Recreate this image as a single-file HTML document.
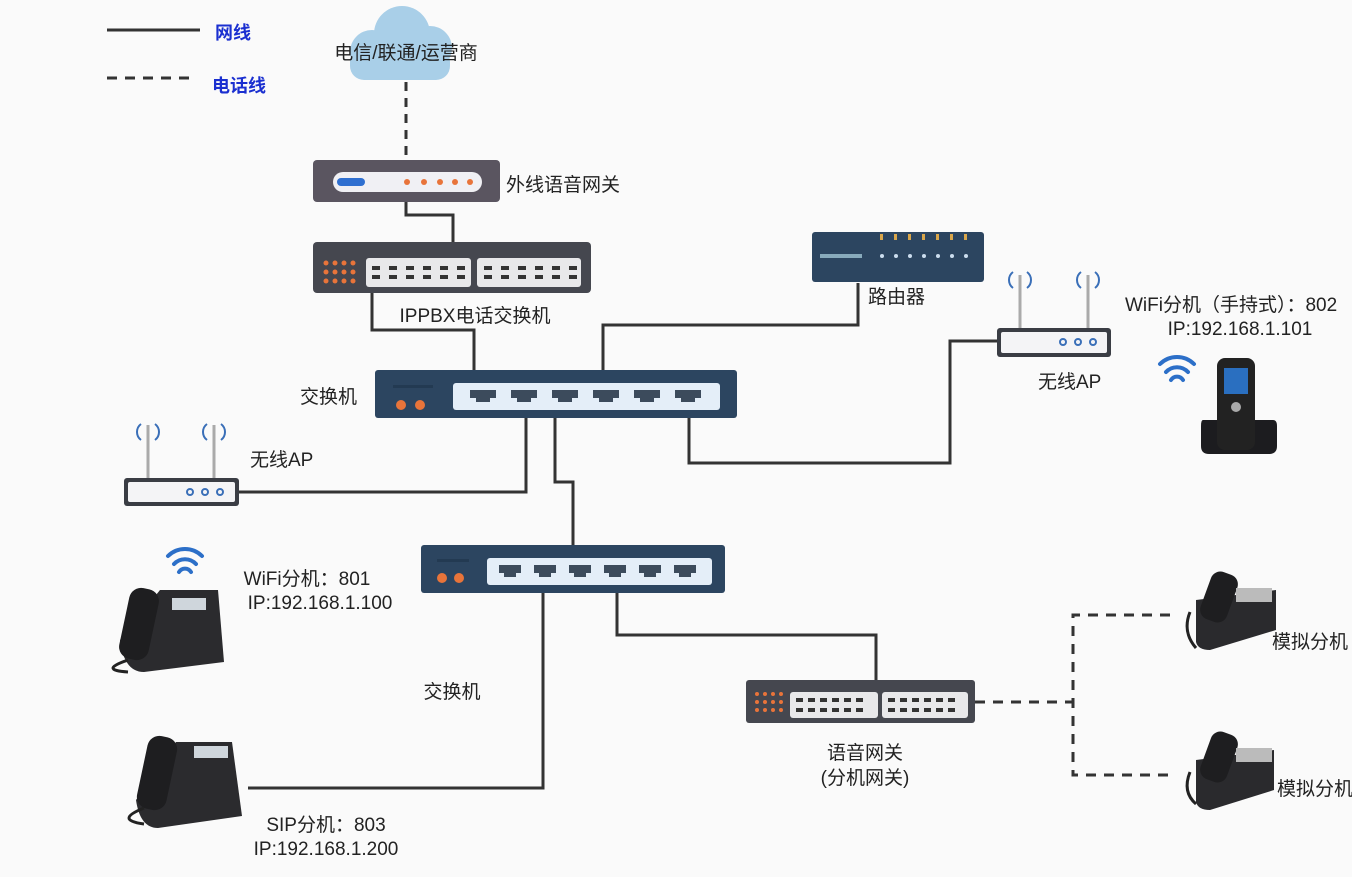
<!DOCTYPE html>
<html><head><meta charset="utf-8"><style>
body{margin:0;background:#fafafa;}
svg{display:block}
text{font-family:"Liberation Sans","Noto Sans CJK SC",sans-serif;font-size:19px;fill:#222}
</style></head><body>
<svg width="1352" height="877" viewBox="0 0 1352 877" xmlns="http://www.w3.org/2000/svg">
<rect width="1352" height="877" fill="#fafafa"/>
<!-- legend -->
<line x1="107" y1="30" x2="200" y2="30" stroke="#333" stroke-width="3"/>
<text x="215" y="39" style="fill:#1a2fd0;font-weight:bold;font-size:18px">网线</text>
<line x1="107" y1="78" x2="197" y2="78" stroke="#333" stroke-width="3" stroke-dasharray="10,8"/>
<text x="212" y="92" style="fill:#1a2fd0;font-weight:bold;font-size:18px">电话线</text>
<!-- cloud -->
<g fill="#a9cfe8">
<circle cx="372" cy="52" r="22"/><circle cx="402" cy="34" r="28"/><circle cx="430" cy="48" r="22"/>
<rect x="350" y="48" width="100" height="32" rx="14"/>
</g>
<text x="406" y="59" text-anchor="middle">电信/联通/运营商</text>
<!-- lines -->
<g stroke="#333" stroke-width="3" fill="none">
<line x1="406" y1="82" x2="406" y2="160" stroke-dasharray="9,7"/>
<polyline points="406,202 406,215 453,215 453,242"/>
<polyline points="372,293 372,330 474,330 474,370"/>
<polyline points="603,370 603,325 858,325 858,283"/>
<polyline points="689,418 689,463 950,463 950,341 997,341"/>
<polyline points="526,418 526,492 239,492"/>
<polyline points="555,418 555,482 573,482 573,545"/>
<polyline points="543,593 543,788 248,788"/>
<polyline points="617,593 617,635 876,635 876,680"/>
<g stroke-dasharray="10,8">
<polyline points="975,702 1073,702"/>
<polyline points="1170,615 1073,615 1073,775 1170,775"/>
</g>
</g>
<!-- outer voice gateway -->
<rect x="313" y="160" width="187" height="42" rx="4" fill="#5a5560"/>
<rect x="333" y="172" width="149" height="20" rx="10" fill="#f0f0f4"/>
<rect x="337" y="178" width="28" height="8" rx="4" fill="#2f6fd0"/>
<g fill="#e8743a"><circle cx="407" cy="182" r="3"/><circle cx="424" cy="182" r="3"/><circle cx="440" cy="182" r="3"/><circle cx="455" cy="182" r="3"/><circle cx="470" cy="182" r="3"/></g>
<text x="506" y="191">外线语音网关</text>
<!-- IPPBX -->
<rect x="313" y="242" width="278" height="51" rx="4" fill="#45474f"/>
<g fill="#e8743a">
<circle cx="326" cy="263" r="2.5"/><circle cx="335" cy="263" r="2.5"/><circle cx="344" cy="263" r="2.5"/><circle cx="353" cy="263" r="2.5"/>
<circle cx="326" cy="272" r="2.5"/><circle cx="335" cy="272" r="2.5"/><circle cx="344" cy="272" r="2.5"/><circle cx="353" cy="272" r="2.5"/>
<circle cx="326" cy="281" r="2.5"/><circle cx="335" cy="281" r="2.5"/><circle cx="344" cy="281" r="2.5"/><circle cx="353" cy="281" r="2.5"/>
</g>
<rect x="366" y="258" width="105" height="29" rx="3" fill="#e8e8ea"/>
<rect x="477" y="258" width="104" height="29" rx="3" fill="#e8e8ea"/>
<g fill="#333">
<path d="M372 266h8v4h-8zM389 266h8v4h-8zM406 266h8v4h-8zM423 266h8v4h-8zM440 266h8v4h-8zM457 266h8v4h-8zM484 266h8v4h-8zM501 266h8v4h-8zM518 266h8v4h-8zM535 266h8v4h-8zM552 266h8v4h-8zM569 266h8v4h-8z"/>
<path d="M372 275h8v4h-8zM389 275h8v4h-8zM406 275h8v4h-8zM423 275h8v4h-8zM440 275h8v4h-8zM457 275h8v4h-8zM484 275h8v4h-8zM501 275h8v4h-8zM518 275h8v4h-8zM535 275h8v4h-8zM552 275h8v4h-8zM569 275h8v4h-8z"/>
</g>
<text x="475" y="322" text-anchor="middle">IPPBX电话交换机</text>
<!-- router -->
<rect x="812" y="232" width="172" height="50" rx="3" fill="#2c4560"/>
<g fill="#d9a64a"><rect x="880" y="234" width="3" height="6"/><rect x="894" y="234" width="3" height="6"/><rect x="908" y="234" width="3" height="6"/><rect x="922" y="234" width="3" height="6"/><rect x="936" y="234" width="3" height="6"/><rect x="950" y="234" width="3" height="6"/><rect x="964" y="234" width="3" height="6"/></g>
<rect x="820" y="254" width="42" height="4" fill="#8ab"/>
<g fill="#cde"><circle cx="882" cy="256" r="2"/><circle cx="896" cy="256" r="2"/><circle cx="910" cy="256" r="2"/><circle cx="924" cy="256" r="2"/><circle cx="938" cy="256" r="2"/><circle cx="952" cy="256" r="2"/><circle cx="966" cy="256" r="2"/></g>
<text x="868" y="303">路由器</text>
<!-- switch 1 -->
<rect x="375" y="370" width="362" height="48" rx="3" fill="#2c4560"/>
<rect x="393" y="385" width="40" height="3" fill="#233a52"/>
<circle cx="401" cy="405" r="5" fill="#e8743a"/><circle cx="420" cy="405" r="5" fill="#e8743a"/>
<rect x="453" y="383" width="267" height="27" rx="3" fill="#e4eef8"/>
<g fill="#3c4b5c">
<path d="M470 390h26v8h-6v4h-14v-4h-6z"/><path d="M511 390h26v8h-6v4h-14v-4h-6z"/><path d="M552 390h26v8h-6v4h-14v-4h-6z"/><path d="M593 390h26v8h-6v4h-14v-4h-6z"/><path d="M634 390h26v8h-6v4h-14v-4h-6z"/><path d="M675 390h26v8h-6v4h-14v-4h-6z"/>
</g>
<text x="300" y="403">交换机</text>
<!-- switch 2 -->
<rect x="421" y="545" width="304" height="48" rx="3" fill="#2c4560"/>
<rect x="437" y="559" width="32" height="3" fill="#233a52"/>
<circle cx="442" cy="578" r="5" fill="#e8743a"/><circle cx="459" cy="578" r="5" fill="#e8743a"/>
<rect x="487" y="558" width="225" height="27" rx="3" fill="#e4eef8"/>
<g fill="#3c4b5c">
<path d="M499 565h22v8h-5v4h-12v-4h-5z"/><path d="M534 565h22v8h-5v4h-12v-4h-5z"/><path d="M569 565h22v8h-5v4h-12v-4h-5z"/><path d="M604 565h22v8h-5v4h-12v-4h-5z"/><path d="M639 565h22v8h-5v4h-12v-4h-5z"/><path d="M674 565h22v8h-5v4h-12v-4h-5z"/>
</g>
<text x="452" y="698" text-anchor="middle">交换机</text>
<!-- voice gateway -->
<rect x="746" y="680" width="229" height="43" rx="3" fill="#45474f"/>
<g fill="#e8743a">
<circle cx="757" cy="694" r="2"/><circle cx="765" cy="694" r="2"/><circle cx="773" cy="694" r="2"/><circle cx="781" cy="694" r="2"/>
<circle cx="757" cy="702" r="2"/><circle cx="765" cy="702" r="2"/><circle cx="773" cy="702" r="2"/><circle cx="781" cy="702" r="2"/>
<circle cx="757" cy="710" r="2"/><circle cx="765" cy="710" r="2"/><circle cx="773" cy="710" r="2"/><circle cx="781" cy="710" r="2"/>
</g>
<rect x="790" y="692" width="88" height="26" rx="3" fill="#e8e8ea"/>
<rect x="882" y="692" width="86" height="26" rx="3" fill="#e8e8ea"/>
<g fill="#333">
<path d="M796 698h7v4h-7zM808 698h7v4h-7zM820 698h7v4h-7zM832 698h7v4h-7zM844 698h7v4h-7zM856 698h7v4h-7zM888 698h7v4h-7zM900 698h7v4h-7zM912 698h7v4h-7zM924 698h7v4h-7zM936 698h7v4h-7zM948 698h7v4h-7z"/>
<path d="M796 708h7v4h-7zM808 708h7v4h-7zM820 708h7v4h-7zM832 708h7v4h-7zM844 708h7v4h-7zM856 708h7v4h-7zM888 708h7v4h-7zM900 708h7v4h-7zM912 708h7v4h-7zM924 708h7v4h-7zM936 708h7v4h-7zM948 708h7v4h-7z"/>
</g>
<text x="865" y="759" text-anchor="middle">语音网关</text>
<text x="865" y="784" text-anchor="middle">(分机网关)</text>
<!-- AP right -->
<g stroke="#aaa" stroke-width="3"><line x1="1020" y1="275" x2="1020" y2="328"/><line x1="1088" y1="275" x2="1088" y2="328"/></g>
<g stroke="#3a6fb8" stroke-width="2" fill="none"><path d="M1013 272a10 10 0 0 0 0 16M1027 272a10 10 0 0 1 0 16M1081 272a10 10 0 0 0 0 16M1095 272a10 10 0 0 1 0 16"/></g>
<rect x="997" y="328" width="114" height="29" rx="3" fill="#3a3d44"/>
<rect x="1001" y="332" width="106" height="21" rx="2" fill="#f4f4f6"/>
<g fill="none" stroke="#3a6fb8" stroke-width="2"><circle cx="1063" cy="342" r="3"/><circle cx="1078" cy="342" r="3"/><circle cx="1093" cy="342" r="3"/></g>
<text x="1038" y="388">无线AP</text>
<!-- AP left -->
<g stroke="#aaa" stroke-width="3"><line x1="148" y1="425" x2="148" y2="478"/><line x1="214" y1="425" x2="214" y2="478"/></g>
<g stroke="#3a6fb8" stroke-width="2" fill="none"><path d="M141 424a10 10 0 0 0 0 16M155 424a10 10 0 0 1 0 16M207 424a10 10 0 0 0 0 16M221 424a10 10 0 0 1 0 16"/></g>
<rect x="124" y="478" width="115" height="28" rx="3" fill="#3a3d44"/>
<rect x="128" y="482" width="107" height="20" rx="2" fill="#f4f4f6"/>
<g fill="none" stroke="#3a6fb8" stroke-width="2"><circle cx="190" cy="492" r="3"/><circle cx="205" cy="492" r="3"/><circle cx="220" cy="492" r="3"/></g>
<text x="250" y="466">无线AP</text>
<!-- wifi icons -->
<g stroke="#2c6fc8" stroke-width="4" fill="none" stroke-linecap="round">
<path d="M1160 364a24 24 0 0 1 34 0M1166 372a15 15 0 0 1 22 0M1171 380a7 7 0 0 1 12 0"/>
<path d="M168 556a24 24 0 0 1 34 0M174 564a15 15 0 0 1 22 0M179 572a7 7 0 0 1 12 0"/>
</g>
<!-- handheld -->
<path d="M1203 420h70q4 0 4 6v20q0 8-8 8h-60q-8 0-8-8v-20q0-6 2-6z" fill="#1c1c1f"/>
<rect x="1217" y="358" width="38" height="92" rx="8" fill="#222"/>
<rect x="1224" y="368" width="24" height="26" fill="#2a6fc0"/>
<circle cx="1236" cy="407" r="5" fill="#aaa"/>
<text x="1125" y="311">WiFi分机（手持式）：802</text>
<text x="1240" y="335" text-anchor="middle">IP:192.168.1.101</text>
<!-- analog phones -->
<g>
<path d="M1196 600l80-10v40l-66 20q-12 0-14-8z" fill="#2a2a2d"/>
<rect x="1205" y="572" width="28" height="50" rx="10" fill="#1e1e20" transform="rotate(20 1219 597)"/>
<rect x="1236" y="588" width="36" height="14" fill="#bbb"/>
<path d="M1190 612q-8 20 6 36" stroke="#222" stroke-width="3" fill="none"/>
</g>
<text x="1272" y="648">模拟分机</text>
<g>
<path d="M1196 760l78-10v40l-64 20q-12 0-14-8z" fill="#2a2a2d"/>
<rect x="1205" y="732" width="28" height="50" rx="10" fill="#1e1e20" transform="rotate(20 1219 757)"/>
<rect x="1236" y="748" width="36" height="14" fill="#bbb"/>
<path d="M1190 772q-8 20 6 32" stroke="#222" stroke-width="3" fill="none"/>
</g>
<text x="1277" y="795">模拟分机</text>
<!-- wifi desk phone -->
<g>
<path d="M120 640l40-50h58l6 72-80 10q-20 0-24-32z" fill="#2b2b2e"/>
<rect x="124" y="588" width="30" height="72" rx="12" fill="#1e1e20" transform="rotate(12 139 624)"/>
<rect x="172" y="598" width="34" height="12" fill="#cfd6dc"/>
<path d="M128 660q-30 10 0 12" stroke="#222" stroke-width="3" fill="none"/>
</g>
<text x="307" y="585" text-anchor="middle">WiFi分机：801</text>
<text x="320" y="609" text-anchor="middle">IP:192.168.1.100</text>
<!-- sip phone -->
<g>
<path d="M136 800l40-58h56l10 74-84 12q-18 0-22-28z" fill="#2b2b2e"/>
<rect x="142" y="736" width="30" height="74" rx="12" fill="#1e1e20" transform="rotate(12 157 773)"/>
<rect x="194" y="746" width="34" height="12" fill="#cfd6dc"/>
<path d="M144 808q-30 12 0 16" stroke="#222" stroke-width="3" fill="none"/>
</g>
<text x="326" y="831" text-anchor="middle">SIP分机：803</text>
<text x="326" y="855" text-anchor="middle">IP:192.168.1.200</text>
</svg>
</body></html>
